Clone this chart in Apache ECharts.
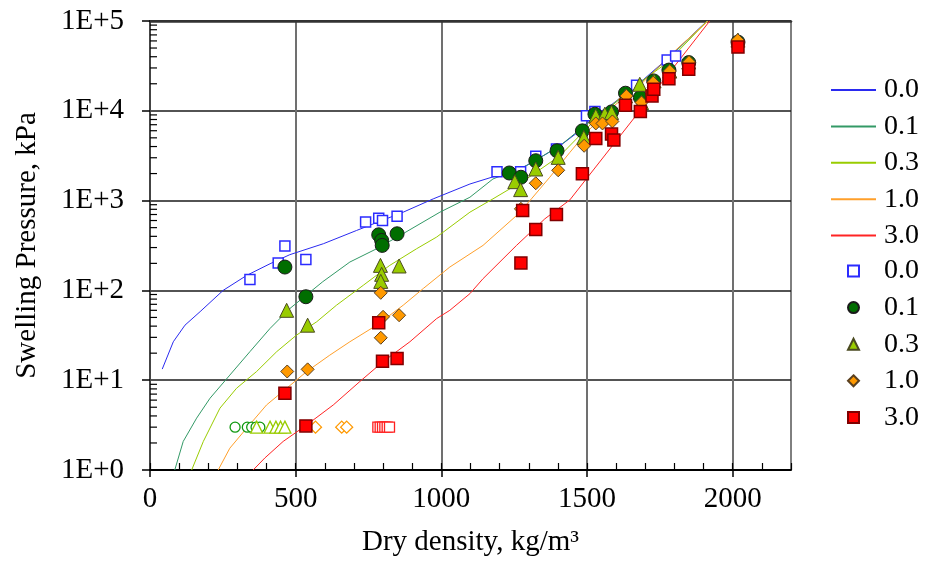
<!DOCTYPE html>
<html>
<head>
<meta charset="utf-8">
<script src="https://cdn.jsdelivr.net/npm/echarts@6/dist/echarts.min.js"></script>
<style>html,body{margin:0;padding:0;background:#fff}#c{width:925px;height:562px}</style>
</head>
<body>
<div id="c"></div>
<script>
// ---- Data ----
const xTickLabels = [0, 500, 1000, 1500, 2000];
const yMinorTicks = [2,3,4,5,6,7,8,9,20,30,40,50,60,70,80,90,200,300,400,500,600,700,800,900,
  2000,3000,4000,5000,6000,7000,8000,9000,20000,30000,40000,50000,60000,70000,80000,90000];

// model curves
const line00X = [42, 80, 120, 172, 251, 332, 412, 480, 595, 709, 869, 972, 1098, 1189, 1258, 1314, 1407, 1475, 1520, 1578, 1680, 1773, 1912];
const line00Y = [13.3, 26.8, 41, 58, 100, 147, 198, 250, 331, 465, 743, 1045, 1530, 1890, 2150, 2690, 4080, 5980, 8780, 11300, 20400, 37400, 100000];
const line01X = [85, 114, 160, 206, 274, 343, 412, 480, 593, 686, 778, 868, 995, 1098, 1177, 1292, 1407, 1498, 1578, 1680, 1773, 1912];
const line01Y = [1, 2.08, 3.78, 6.3, 11.4, 20.8, 37.7, 62.8, 125, 207, 291, 427, 743, 1090, 1740, 2450, 4080, 7100, 11000, 20000, 36500, 100000];
const line03X = [143, 183, 240, 297, 366, 435, 503, 572, 640, 732, 823, 915, 984, 1098, 1177, 1292, 1407, 1520, 1635, 1773, 1913];
const line03Y = [1, 2.08, 4.88, 8.13, 12.5, 20.8, 31.8, 44.7, 68.4, 114, 190, 291, 393, 743, 1045, 1740, 3160, 7470, 16000, 34000, 100000];
const line10X = [234, 274, 332, 400, 469, 538, 617, 686, 778, 869, 938, 1029, 1143, 1258, 1309, 1372, 1441, 1498, 1578, 1691, 1807, 1915];
const line10Y = [1, 1.75, 2.93, 5.3, 8.13, 12.5, 19, 26.8, 41, 68.4, 105, 182, 317, 682, 1045, 1820, 3440, 5740, 10400, 20600, 48300, 100000];
const line30X = [354, 394, 457, 538, 629, 720, 800, 892, 984, 1029, 1098, 1143, 1258, 1355, 1441, 1681, 1921];
const line30Y = [1, 1.36, 2.08, 3.18, 5.3, 9.65, 16.1, 26.8, 48.6, 60, 92, 135, 317, 626, 1018, 10000, 100000];

// measured points
const pts00X = [343, 440, 463, 535, 740, 785, 798, 848, 1191, 1272, 1324, 1395, 1498, 1527, 1670, 1775, 1804];
const pts00Y = [132, 202, 312, 221, 576, 638, 600, 671, 2100, 2100, 3110, 3750, 8780, 9820, 19200, 36700, 40700];
const pts01X = [463, 535, 785, 795, 797, 848, 1233, 1273, 1324, 1397, 1484, 1527, 1584, 1632, 1683, 1729, 1781, 1849, 2018];
const pts01Y = [182, 85, 416, 360, 317, 427, 2030, 1820, 2780, 3590, 5980, 9170, 9720, 15700, 14060, 21500, 28400, 34400, 58200];
const pts03X = [469, 541, 791, 795, 792, 855, 1252, 1272, 1324, 1401, 1489, 1530, 1561, 1584, 1632, 1687, 1681, 1730, 1784, 1849, 2018];
const pts03Y = [60, 41, 190, 151, 126, 187, 1625, 1325, 2250, 3030, 5055, 8780, 9170, 9580, 14640, 12370, 19730, 21500, 27700, 34900, 61200];
const pts10X = [471, 541, 792, 800, 792, 855, 1273, 1324, 1401, 1490, 1530, 1553, 1587, 1635, 1687, 1727, 1784, 1850, 2017];
const pts10Y = [12.5, 13.2, 94, 50.8, 29.7, 52.9, 809, 1560, 2175, 4077, 7230, 7230, 7610, 14640, 12370, 20600, 27700, 34900, 61200];
const pts30X = [463, 535, 785, 798, 848, 1273, 1279, 1324, 1395, 1484, 1530, 1584, 1592, 1632, 1683, 1723, 1729, 1781, 1849, 2018];
const pts30Y = [7.16, 3.1, 43.6, 16.3, 17.5, 202, 774, 476, 699, 1995, 4930, 5500, 4720, 11530, 9820, 14640, 17380, 22800, 28960, 51200];

// hollow points (no measurable swelling)
const hol01X = [292, 334, 349, 364, 377];
const hol01Y = [3, 3, 3, 3, 3];
const hol03X = [366, 412, 432, 448, 463];
const hol03Y = [3, 3, 3, 3, 3];
const hol10X = [568, 658, 675];
const hol10Y = [3, 3, 3];
const hol30X = [782, 790, 798, 806, 814, 822];
const hol30Y = [3, 3, 3, 3, 3, 3];

// ---- Chart ----
const pairs = (xs, ys) => xs.map((x, i) => [x, ys[i]]);
const FONT = "'Liberation Serif', 'Times New Roman', serif";
const C = { b: '#2a2af0', g: '#339966', y: '#99cc00', o: '#ff9f2a', r: '#ff2424' };

function lineS(name, xs, ys, color) {
  return { name, type: 'line', data: pairs(xs, ys), symbol: 'none', showSymbol: false,
    lineStyle: { color, width: 1 }, itemStyle: { color }, z: 2, silent: true, animation: false };
}
function ptS(name, xs, ys, symbol, size, fill, border, bw) {
  return { name, type: 'scatter', data: pairs(xs, ys), symbol, symbolSize: size, symbolKeepAspect: true,
    itemStyle: { color: fill, borderColor: border, borderWidth: bw, opacity: 1 }, z: 4, silent: true, animation: false };
}
const lineLegend = (name, color) => ({ name, itemStyle: { opacity: 0 }, lineStyle: { color, width: 2 } });
const legendText = (padLeft) => ({ fontFamily: FONT, fontSize: 28, lineHeight: 30, color: '#000', padding: [0, 0, 0, padLeft] });

const chart = echarts.init(document.getElementById('c'), null, { renderer: 'canvas' });
chart.setOption({
  backgroundColor: '#fff',
  animation: false,
  textStyle: { fontFamily: FONT, color: '#000' },
  grid: { left: 150, right: 134, top: 21, bottom: 90, show: true, borderColor: '#000', borderWidth: 1, backgroundColor: 'transparent' },
  legend: [
    { orient: 'vertical', left: 830, top: 75, padding: 0, itemWidth: 45, itemHeight: 11, itemGap: 6.4,
      data: [lineLegend('L0.0', C.b), lineLegend('L0.1', C.g), lineLegend('L0.3', C.y), lineLegend('L1.0', C.o), lineLegend('L3.0', C.r)],
      formatter: n => n.slice(1), textStyle: legendText(3), selectedMode: false },
    { orient: 'vertical', left: 847, top: 256, padding: 0, itemWidth: 11, itemHeight: 11, itemGap: 6.6,
      data: ['P0.0','P0.1','P0.3','P1.0','P3.0'],
      formatter: n => n.slice(1), textStyle: legendText(20), selectedMode: false }
  ],
  xAxis: [
    { type: 'value', min: 0, max: 2200, interval: 500,
      name: 'Dry density, kg/m\u00B3', nameLocation: 'middle', nameGap: 58,
      nameTextStyle: { fontFamily: FONT, fontSize: 29, color: '#000' },
      axisLine: { show: true, lineStyle: { color: '#000', width: 2 } },
      axisTick: { show: true, inside: false, length: 7, customValues: xTickLabels, lineStyle: { color: '#000', width: 1.5 } },
      axisLabel: { show: true, margin: 15, customValues: xTickLabels, fontFamily: FONT, fontSize: 29, color: '#000',
        formatter: v => String(v) },
      splitLine: { show: true, customValues: xTickLabels, lineStyle: { color: '#707070', width: 2 } } },
    { type: 'value', position: 'top', min: 0, max: 2200, offset: 0,
      axisLine: { show: true, lineStyle: { color: '#333', width: 2.5 } },
      axisTick: { show: false }, axisLabel: { show: false }, splitLine: { show: false } },
    { type: 'value', position: 'bottom', min: 0, max: 2200, interval: 100, offset: 0,
      axisLine: { show: false },
      axisTick: { show: true, inside: true, length: 7, lineStyle: { color: '#000', width: 1.2 } },
      axisLabel: { show: false }, splitLine: { show: false } }
  ],
  yAxis: [
    { type: 'log', logBase: 10, min: 1, max: 100000,
      name: 'Swelling Pressure, kPa', nameLocation: 'middle', nameGap: 108, nameRotate: 90,
      nameTextStyle: { fontFamily: FONT, fontSize: 29, color: '#000' },
      axisLine: { show: true, lineStyle: { color: '#444', width: 2 } },
      axisTick: { show: true, inside: false, length: 8, lineStyle: { color: '#000', width: 1.5 } },
      axisLabel: { margin: 26, fontFamily: FONT, fontSize: 29, color: '#000',
        formatter: v => '1E+' + Math.round(Math.log10(v)) },
      splitLine: { show: true, lineStyle: { color: '#1a1a1a', width: 1.6 } } }
  ],
  series: [
    lineS('L0.0', line00X, line00Y, C.b),
    lineS('L0.1', line01X, line01Y, C.g),
    lineS('L0.3', line03X, line03Y, C.y),
    lineS('L1.0', line10X, line10Y, C.o),
    lineS('L3.0', line30X, line30Y, C.r),
    ptS('H0.1', hol01X, hol01Y, 'circle', 10, '#fff', '#119911', 1.3),
    ptS('H0.3', hol03X, hol03Y, 'triangle', 12, '#fff', '#99cc00', 1.3),
    ptS('H1.0', hol10X, hol10Y, 'diamond', 12, '#fff', '#ff9900', 1.3),
    ptS('H3.0', hol30X, hol30Y, 'rect', 10, '#fff', '#ff2020', 1.3),
    ptS('P0.0', pts00X, pts00Y, 'rect', 10, '#fff', '#2b2bff', 1.5),
    ptS('P0.1', pts01X, pts01Y, 'circle', 14, '#006e00', '#1a1a1a', 1),
    ptS('P0.3', pts03X, pts03Y, 'triangle', 14, '#99cc00', '#4a4a20', 1),
    ptS('P1.0', pts10X, pts10Y, 'diamond', 13, '#ff9900', '#5a4020', 1),
    ptS('P3.0', pts30X, pts30Y, 'rect', 12, '#ff0000', '#800000', 1.5),
    { name: 'yMinor', type: 'custom', silent: true, z: 5, clip: false,
      data: yMinorTicks.map(v => [0, v]),
      renderItem: (params, api) => {
        const p = api.coord([0, api.value(1)]);
        return { type: 'line', shape: { x1: p[0], y1: p[1], x2: p[0] + 7, y2: p[1] },
          style: { stroke: '#000', lineWidth: 1.2 } };
      } }
  ]
});
</script>
</body>
</html>
